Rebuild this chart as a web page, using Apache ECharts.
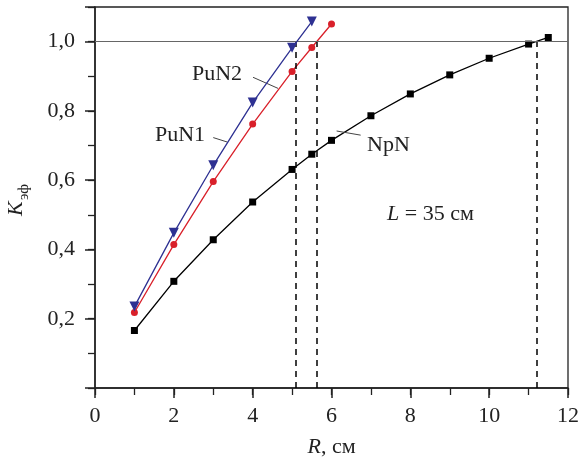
<!DOCTYPE html>
<html>
<head>
<meta charset="utf-8">
<script src="https://cdn.jsdelivr.net/npm/echarts@6/dist/echarts.min.js"></script>
<style>html,body{margin:0;padding:0;background:#fff}#c{width:583px;height:463px}</style>
</head>
<body>
<div id="c"></div>
<script>
// Data
var npnR = [1, 2, 3, 4, 5, 5.5, 6, 7, 8, 9, 10, 11, 11.5];
var npnK = [0.166, 0.308, 0.428, 0.537, 0.631, 0.675, 0.715, 0.786, 0.849, 0.904, 0.952, 0.993, 1.012];
var pun1R = [1, 2, 3, 4, 5, 5.5, 6];
var pun1K = [0.218, 0.414, 0.596, 0.762, 0.914, 0.983, 1.051];
var pun2R = [1, 2, 3, 4, 5, 5.5];
var pun2K = [0.235, 0.448, 0.643, 0.824, 0.982, 1.058];
var critR = [5.1, 5.63, 11.2];   // R at which K = 1
var critK = 1.0;
// leader lines for series labels (data coords)
var leaderPuN2 = [[4.01, 0.897], [4.645, 0.865]];
var leaderPuN1 = [[3.00, 0.723], [3.36, 0.710]];
var leaderNpN  = [[6.13, 0.742], [6.74, 0.730]];

function zip(a, b) { return a.map(function (v, i) { return [v, b[i]]; }); }

var FONT = "'Liberation Serif', 'Times New Roman', Tinos, serif";
var chart = echarts.init(document.getElementById('c'), null, {renderer: 'canvas'});

function leader(pts) {
  return [{coord: pts[0]}, {coord: pts[1]}];
}

var option = {
  animation: false,
  backgroundColor: '#fff',
  textStyle: {fontFamily: FONT},
  grid: {left: 95, right: 15, top: 7, bottom: 75, show: true, borderColor: '#222', borderWidth: 1.3, backgroundColor: 'transparent'},
  xAxis: [{
    type: 'value', min: 0, max: 12, interval: 1,
    axisLine: {lineStyle: {color: '#222', width: 1.5}},
    axisTick: {length: 7, lineStyle: {color: '#222', width: 1.3}},
    axisLabel: {margin: 17, color: '#222', fontFamily: FONT, fontSize: 22,
      formatter: function (v) { return (Math.round(v) % 2 === 0) ? String(v) : ''; }},
    splitLine: {show: false},
    name: '{i|R}, см', nameLocation: 'middle', nameGap: 48,
    nameTextStyle: {color: '#222', fontFamily: FONT, fontSize: 22,
      rich: {i: {fontStyle: 'italic', fontFamily: FONT, fontSize: 22, color: '#222'}}}
  }, {
    type: 'value', min: 0, max: 12, interval: 2, position: 'bottom',
    axisLine: {show: false},
    axisTick: {length: 10, lineStyle: {color: '#222', width: 1.5}},
    axisLabel: {show: false}, splitLine: {show: false}
  }],
  yAxis: [{
    type: 'value', min: 0, max: 1.1, interval: 0.1,
    axisLine: {lineStyle: {color: '#222', width: 1.5}},
    axisTick: {length: 7, lineStyle: {color: '#222', width: 1.3}},
    axisLabel: {margin: 20, color: '#222', fontFamily: FONT, fontSize: 22,
      formatter: function (v) {
        var k = Math.round(v * 10);
        if (k === 0 || k % 2 !== 0) return '';
        return (k / 10).toFixed(1).replace('.', ',');
      }},
    splitLine: {show: false}
  }, {
    type: 'value', min: 0, max: 1.1, interval: 0.2, position: 'left', offset: 0,
    axisLine: {show: false},
    axisTick: {length: 10, lineStyle: {color: '#222', width: 1.5}},
    axisLabel: {show: false}, splitLine: {show: false}
  }],
  series: [{
    name: 'NpN', type: 'line', data: zip(npnR, npnK),
    symbol: 'rect', symbolSize: 7, showAllSymbol: true,
    lineStyle: {color: '#000', width: 1.3}, itemStyle: {color: '#000'},
    z: 3,
    markLine: {
      silent: true, symbol: 'none', label: {show: false}, animation: false,
      data: [
        [{coord: [critR[0], 0]}, {coord: [critR[0], critK]}],
        [{coord: [critR[1], 0]}, {coord: [critR[1], critK]}],
        [{coord: [critR[2], 0]}, {coord: [critR[2], critK]}]
      ],
      lineStyle: {color: '#000', width: 1.5, type: [6, 5]}
    }
  }, {
    name: 'PuN1', type: 'line', data: zip(pun1R, pun1K),
    symbol: 'circle', symbolSize: 7, showAllSymbol: true,
    lineStyle: {color: '#d9202a', width: 1.3}, itemStyle: {color: '#d9202a'},
    z: 4,
    markLine: {
      silent: true, symbol: 'none', label: {show: false}, animation: false,
      data: [[{yAxis: critK, x: 95}, {yAxis: critK, x: 568}]],
      lineStyle: {color: '#666', width: 1, type: 'solid'}
    }
  }, {
    name: 'PuN2', type: 'line', data: zip(pun2R, pun2K),
    symbol: 'triangle', symbolRotate: 180, symbolSize: 10, showAllSymbol: true,
    lineStyle: {color: '#2e3192', width: 1.3}, itemStyle: {color: '#2e3192'},
    z: 5,
    markLine: {
      silent: true, symbol: 'none', label: {show: false}, animation: false,
      data: [leader(leaderPuN2), leader(leaderPuN1), leader(leaderNpN)],
      lineStyle: {color: '#444', width: 1, type: 'solid'}
    }
  }],
  graphic: [
    {type: 'text', left: 192, top: 63, style: {text: 'PuN2', font: '22px ' + FONT, fill: '#222'}},
    {type: 'text', left: 155, top: 124, style: {text: 'PuN1', font: '22px ' + FONT, fill: '#222'}},
    {type: 'text', left: 367, top: 134, style: {text: 'NpN', font: '22px ' + FONT, fill: '#222'}},
    {type: 'text', left: 387, top: 203, style: {text: '{i|L} = 35 см', font: '22px ' + FONT, fill: '#222',
      rich: {i: {fontStyle: 'italic', fontFamily: FONT, fontSize: 22, fill: '#222'}}}},
    {type: 'group', x: 27, y: 216, rotation: Math.PI / 2, children: [
      {type: 'text', x: 0, y: 0, style: {text: 'K', font: 'italic 22px ' + FONT, fill: '#222', verticalAlign: 'bottom', align: 'left'}},
      {type: 'text', x: 16, y: 5, style: {text: 'эф', font: '15px ' + FONT, fill: '#222', verticalAlign: 'bottom', align: 'left'}}
    ]}
  ]
};
chart.setOption(option);
</script>
</body>
</html>
